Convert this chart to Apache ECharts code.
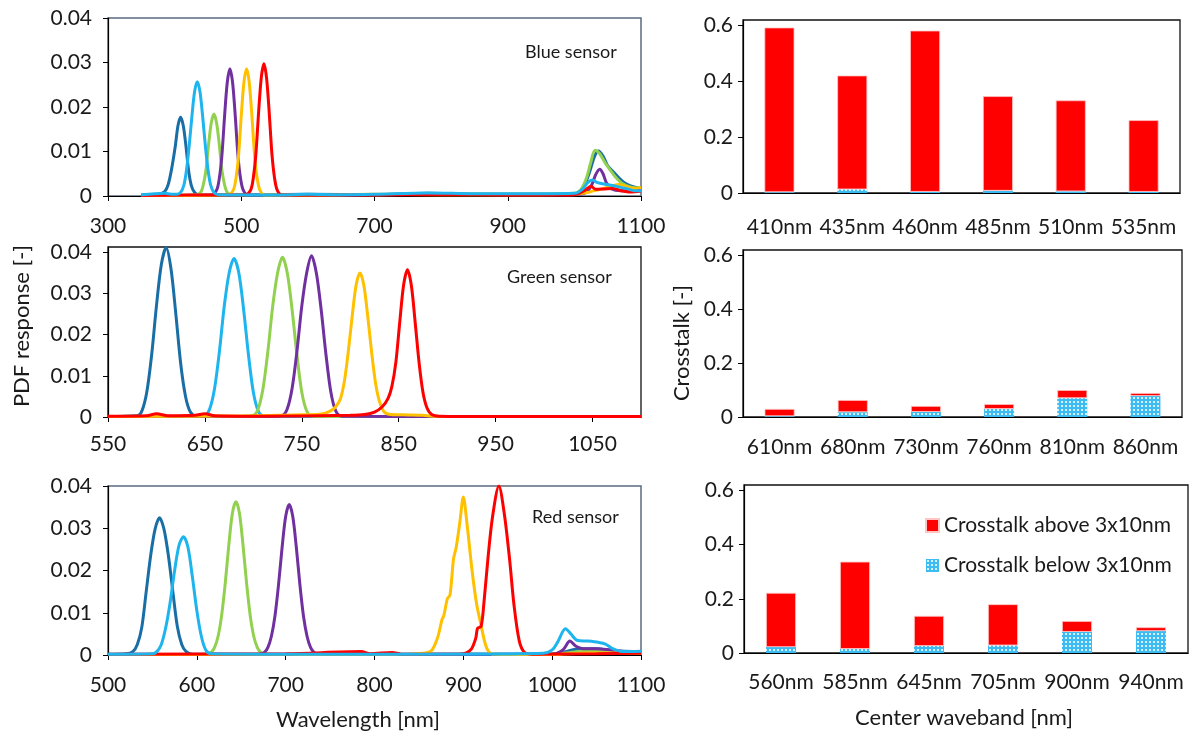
<!DOCTYPE html>
<html>
<head>
<meta charset="utf-8">
<script src="https://cdn.jsdelivr.net/npm/echarts@6/dist/echarts.min.js"></script>
<style>html,body{margin:0;background:#fff}#chart{width:1193px;height:733px}</style>
</head>
<body>
<div id="chart"></div>
<script>
// Blue sensor spectra [nm, PDF]
var bsDarkBlue = [[350,0.0002],[375,0.0004],[385,0.001],[390,0.0024],[395,0.0057],[401,0.0112],[405,0.0158],[409,0.0177],[413,0.0158],[417,0.0112],[421,0.0057],[425,0.0024],[430,0.0008],[437,0.0002],[500,0.0002],[600,0.0004],[700,0.0003],[780,0.0006],[850,0.0004],[950,0.0004],[1000,0.0005],[1012,0.0015],[1022,0.005],[1030,0.0088],[1036,0.0101],[1043,0.009],[1050,0.0068],[1058,0.0055],[1066,0.0042],[1075,0.003],[1088,0.0021],[1100,0.0017]];
var bsLightBlue = [[350,0.0003],[370,0.0005],[385,0.0006],[395,0.0004],[403,0.0004],[409,0.0008],[414,0.0025],[418,0.006],[422,0.0115],[426,0.018],[430,0.0235],[434,0.0257],[438,0.0235],[442,0.018],[446,0.0115],[450,0.006],[454,0.0025],[459,0.0008],[465,0.0003],[550,0.0002],[600,0.0004],[650,0.0003],[700,0.0004],[780,0.0007],[850,0.0005],[950,0.0005],[1000,0.0006],[1012,0.0015],[1020,0.003],[1027,0.0036],[1035,0.003],[1048,0.0026],[1065,0.0021],[1080,0.0016],[1090,0.0012],[1100,0.0012]];
var bsGreen = [[350,0.0001],[430,0.0002],[439,0.0008],[443,0.0025],[447,0.0058],[451,0.0116],[455,0.0164],[459,0.0184],[463,0.0164],[467,0.0116],[471,0.0058],[475,0.0025],[479,0.0008],[486,0.0002],[600,0.0003],[700,0.0003],[800,0.0005],[900,0.0004],[1000,0.0006],[1010,0.0015],[1018,0.004],[1024,0.0072],[1031,0.0103],[1038,0.0095],[1046,0.0075],[1054,0.0058],[1062,0.0042],[1072,0.0028],[1085,0.002],[1100,0.0018]];
var bsPurple = [[350,0.0001],[455,0.0002],[463,0.0013],[467,0.0039],[471,0.0092],[475,0.018],[479,0.0255],[483,0.0286],[487,0.0255],[491,0.018],[495,0.0092],[499,0.0039],[503,0.0013],[510,0.0002],[600,0.0002],[700,0.0003],[800,0.0004],[900,0.0003],[1000,0.0003],[1018,0.0008],[1026,0.0025],[1032,0.0048],[1038,0.006],[1043,0.005],[1048,0.003],[1056,0.0016],[1070,0.0012],[1100,0.0013]];
var bsOrange = [[350,0.0001],[480,0.0002],[488,0.0013],[492,0.0039],[496,0.0092],[500,0.018],[504,0.0255],[508,0.0286],[512,0.0255],[516,0.018],[520,0.0092],[524,0.0039],[528,0.0013],[535,0.0002],[600,0.0002],[700,0.0004],[800,0.0003],[900,0.0003],[1000,0.0004],[1020,0.0008],[1030,0.0012],[1040,0.0015],[1055,0.0022],[1068,0.0026],[1080,0.002],[1090,0.0017],[1100,0.0019]];
var bsRed = [[350,0.0001],[420,0.0002],[505,0.0002],[514,0.0013],[518,0.004],[522,0.0095],[526,0.0187],[530,0.0265],[534,0.0297],[538,0.0265],[542,0.0187],[546,0.0095],[550,0.004],[554,0.0013],[561,0.0002],[650,0.0002],[750,0.0003],[850,0.0003],[950,0.0002],[1000,0.0003],[1015,0.0012],[1025,0.0022],[1032,0.0015],[1045,0.0016],[1058,0.0017],[1070,0.0012],[1085,0.0009],[1100,0.0011]];

// Green sensor spectra
var gsDarkBlue = [[550,0.0001],[580,0.0003],[585,0.0015],[590,0.006],[595,0.015],[600,0.027],[605,0.037],[610,0.0412],[615,0.036],[620,0.025],[625,0.013],[630,0.005],[635,0.0012],[641,0.0002],[700,0.0001],[800,0.0001],[1100,0.0001]];
var gsLightBlue = [[550,0.0001],[640,0.0002],[650,0.0004],[655,0.002],[660,0.007],[665,0.016],[670,0.027],[675,0.035],[680,0.0385],[685,0.035],[690,0.026],[695,0.015],[700,0.006],[705,0.0015],[711,0.0002],[800,0.0001],[1100,0.0001]];
var gsGreen = [[550,0.0001],[690,0.0002],[700,0.0004],[705,0.002],[710,0.007],[715,0.016],[720,0.027],[725,0.035],[730,0.0388],[735,0.035],[740,0.026],[745,0.015],[750,0.006],[755,0.0015],[761,0.0002],[850,0.0001],[1100,0.0001]];
var gsPurple = [[550,0.0001],[720,0.0002],[730,0.0004],[735,0.002],[740,0.007],[745,0.016],[750,0.027],[755,0.035],[760,0.0392],[765,0.035],[770,0.026],[775,0.015],[780,0.006],[785,0.0015],[791,0.0002],[900,0.0001],[1100,0.0001]];
var gsOrange = [[550,0.0001],[700,0.0003],[740,0.0005],[765,0.0006],[775,0.001],[782,0.0018],[786,0.0028],[790,0.0045],[794,0.0088],[798,0.016],[802,0.0245],[806,0.032],[810,0.035],[814,0.032],[818,0.0245],[822,0.0158],[826,0.0084],[830,0.0039],[835,0.0012],[842,0.0006],[860,0.0005],[875,0.0004],[885,0.0002],[1100,0.0001]];
var gsRed = [[550,0.0002],[590,0.0003],[600,0.0008],[612,0.0003],[640,0.0004],[650,0.0008],[660,0.0003],[700,0.0002],[800,0.0004],[815,0.0006],[825,0.0012],[833,0.0025],[839,0.0045],[843,0.0075],[847,0.0132],[851,0.0229],[855,0.032],[859,0.0358],[863,0.032],[867,0.0229],[871,0.0132],[875,0.006],[879,0.0023],[884,0.0006],[892,0.0002],[950,0.0001],[1100,0.0001]];

// Red sensor spectra
var rsDarkBlue = [[500,0.0002],[520,0.0003],[528,0.0008],[533,0.0025],[538,0.0065],[543,0.015],[548,0.0235],[553,0.0298],[558,0.0325],[563,0.0298],[568,0.0235],[573,0.015],[578,0.0068],[583,0.0025],[588,0.0008],[595,0.0002],[700,0.0002],[800,0.0002],[1000,0.0003],[1015,0.0008],[1030,0.0015],[1050,0.0015],[1070,0.001],[1100,0.0008]];
var rsLightBlue = [[500,0.0002],[550,0.0003],[555,0.0008],[560,0.0025],[565,0.0065],[570,0.0125],[575,0.02],[580,0.026],[585,0.028],[590,0.0255],[595,0.0185],[600,0.0105],[605,0.0045],[610,0.0012],[616,0.0003],[700,0.0002],[800,0.0002],[900,0.0002],[990,0.0004],[1000,0.0012],[1006,0.003],[1015,0.0062],[1021,0.005],[1028,0.0035],[1040,0.0033],[1052,0.003],[1060,0.0026],[1068,0.0015],[1080,0.0008],[1100,0.0009]];
var rsGreen = [[500,0.0001],[610,0.0002],[616,0.0006],[620,0.0018],[624,0.0045],[628,0.0095],[632,0.017],[636,0.026],[640,0.0335],[644,0.0363],[648,0.0335],[652,0.026],[656,0.017],[660,0.0095],[664,0.0045],[668,0.0018],[672,0.0006],[678,0.0001],[800,0.0001],[1000,0.0002],[1030,0.0008],[1050,0.001],[1070,0.0007],[1100,0.0005]];
var rsPurple = [[500,0.0001],[670,0.0002],[676,0.0006],[680,0.0018],[684,0.0045],[688,0.0093],[692,0.0167],[696,0.0255],[700,0.0328],[704,0.0356],[708,0.0328],[712,0.0255],[716,0.0167],[720,0.0093],[724,0.0045],[728,0.0018],[732,0.0006],[738,0.0001],[850,0.0001],[1000,0.0002],[1012,0.0012],[1020,0.0033],[1026,0.0022],[1035,0.0015],[1050,0.0015],[1065,0.0012],[1080,0.0008],[1100,0.0006]];
var rsOrange = [[500,0.0001],[840,0.0002],[855,0.0004],[864,0.001],[871,0.0041],[876,0.0084],[878,0.0093],[882,0.0133],[885,0.0142],[889,0.0228],[892,0.0255],[896,0.0313],[900,0.0374],[904,0.0313],[910,0.0197],[915,0.012],[919,0.008],[926,0.0018],[933,0.0002],[1000,0.0001],[1040,0.0005],[1070,0.0005],[1100,0.0004]];
var rsRed = [[500,0.0002],[700,0.0003],[785,0.0008],[795,0.0003],[820,0.0006],[830,0.0002],[895,0.0002],[902,0.0004],[909,0.0014],[914,0.004],[916,0.0063],[920,0.0068],[923,0.0119],[928,0.0235],[933,0.0329],[940,0.04],[946,0.0336],[952,0.0228],[957,0.0119],[963,0.0033],[969,0.0006],[978,0.0002],[1050,0.0003],[1100,0.0004]];

// crosstalk bars
var blueBands = ['410nm','435nm','460nm','485nm','510nm','535nm'];
var blueBelow = [0.003,0.013,0.004,0.008,0.006,0.004];
var blueAbove = [0.590,0.408,0.578,0.339,0.326,0.257];
var greenBands = ['610nm','680nm','730nm','760nm','810nm','860nm'];
var greenBelow = [0.003,0.018,0.019,0.030,0.070,0.078];
var greenAbove = [0.027,0.045,0.022,0.018,0.030,0.011];
var redBands = ['560nm','585nm','645nm','705nm','900nm','940nm'];
var redBelow = [0.022,0.015,0.026,0.028,0.078,0.081];
var redAbove = [0.200,0.322,0.111,0.152,0.040,0.014];

var font = 'Lato, "Noto Sans", sans-serif';
var txt = '#1a1a1a';
var cDarkBlue = '#1a6ea6', cLightBlue = '#1eb4ee', cGreen = '#92d050',
    cPurple = '#7030a0', cOrange = '#ffc000', cRed = '#ff0000';

// dotted light-blue fill
var pc = document.createElement('canvas');
pc.width = 4; pc.height = 4;
var pctx = pc.getContext('2d');
pctx.fillStyle = '#3cbcf0'; pctx.fillRect(0, 0, 4, 4);
pctx.fillStyle = '#d6f1fc'; pctx.fillRect(1, 1, 2, 2);
var dotted = { image: pc, repeat: 'repeat' };

var chart = echarts.init(document.getElementById('chart'));

function plain(v) { return String(v); }
function lineSeries(data, color, idx) {
  return {
    type: 'line', xAxisIndex: idx, yAxisIndex: idx, data: data,
    showSymbol: false, smooth: 0.3, silent: true,
    lineStyle: { width: 3, color: color }, itemStyle: { color: color }
  };
}
function valX(idx, min, max, ticks, margin) {
  return {
    type: 'value', gridIndex: idx, min: min, max: max,
    axisLine: { lineStyle: { color: '#000', width: 1.2 } },
    axisTick: { length: 5, lineStyle: { color: '#000' }, customValues: ticks },
    axisLabel: { fontSize: 21, color: txt, fontFamily: font, margin: margin, customValues: ticks, formatter: plain },
    splitLine: { show: false }
  };
}
function valY(idx, max, ticks, margin) {
  return {
    type: 'value', gridIndex: idx, min: 0, max: max,
    axisLine: { show: true, lineStyle: { color: '#000', width: 1.2 } },
    axisTick: { show: true, length: 5, lineStyle: { color: '#000' }, customValues: ticks },
    axisLabel: { fontSize: 21, color: txt, fontFamily: font, margin: margin, customValues: ticks, formatter: plain },
    splitLine: { show: false }
  };
}
function catX(idx, cats, margin) {
  return {
    type: 'category', gridIndex: idx, data: cats,
    axisLine: { lineStyle: { color: '#000', width: 1.2 } },
    axisTick: { show: false },
    axisLabel: { fontSize: 21, color: txt, fontFamily: font, margin: margin, interval: 0, hideOverlap: false },
    splitLine: { show: false }
  };
}
function barPair(idx, below, above) {
  return [
    { type: 'bar', name: 'Crosstalk below 3x10nm', xAxisIndex: idx, yAxisIndex: idx, stack: 's' + idx,
      data: below, barWidth: 30, itemStyle: { color: dotted }, silent: true },
    { type: 'bar', name: 'Crosstalk above 3x10nm', xAxisIndex: idx, yAxisIndex: idx, stack: 's' + idx,
      data: above, barWidth: 30, itemStyle: { color: cRed, borderColor: '#ffc4c4', borderWidth: 0.8 }, silent: true }
  ];
}
function label(text, x, y, size, rotate) {
  return {
    type: 'text', x: x, y: y, rotation: rotate ? Math.PI / 2 : 0, silent: true,
    style: { text: text, fontSize: size, fontFamily: font, fill: txt, align: 'center', verticalAlign: 'middle' }
  };
}

var labStyle = { fontSize: 18, fontWeight: 'normal', color: txt, fontFamily: font };

var option = {
  animation: false,
  textStyle: { fontFamily: font },
  title: [
    { text: 'Blue sensor', left: 520, top: 38, textStyle: labStyle },
    { text: 'Green sensor', left: 502, top: 263, textStyle: labStyle },
    { text: 'Red sensor', left: 527, top: 503, textStyle: labStyle }
  ],
  graphic: [
    label('PDF response [-]', 22, 326, 22, true),
    label('Wavelength [nm]', 358, 720, 22, false),
    label('Crosstalk [-]', 682, 343, 22, true),
    label('Center waveband [nm]', 964, 718, 22, false)
  ],
  legend: {
    orient: 'vertical', left: 920, top: 510, itemWidth: 13, itemHeight: 13, itemGap: 19,
    icon: 'rect', textStyle: { fontSize: 21, color: txt, fontFamily: font },
    data: ['Crosstalk above 3x10nm', 'Crosstalk below 3x10nm'], selectedMode: false
  },
  grid: [
    { left: 108, top: 18, width: 533, height: 178, show: true, borderColor: '#5b6b7c', borderWidth: 1.5 },
    { left: 108, top: 247, width: 533, height: 170, show: true, borderColor: '#111', borderWidth: 1.3 },
    { left: 108, top: 486, width: 533, height: 169, show: true, borderColor: '#5b6b7c', borderWidth: 1.5 },
    { left: 743, top: 20, width: 437, height: 173, show: true, borderColor: '#111', borderWidth: 1.3 },
    { left: 743, top: 250, width: 439, height: 167, show: true, borderColor: '#111', borderWidth: 1.3 },
    { left: 744, top: 485, width: 444, height: 168, show: true, borderColor: '#111', borderWidth: 1.3 }
  ],
  xAxis: [
    valX(0, 300, 1100, [300, 500, 700, 900, 1100], 20),
    valX(1, 550, 1100, [550, 650, 750, 850, 950, 1050], 17),
    valX(2, 500, 1100, [500, 600, 700, 800, 900, 1000, 1100], 20),
    catX(3, blueBands, 24),
    catX(4, greenBands, 20),
    catX(5, redBands, 19)
  ],
  yAxis: [
    valY(0, 0.04, [0, 0.01, 0.02, 0.03, 0.04], 16),
    valY(1, 0.0413, [0, 0.01, 0.02, 0.03, 0.04], 16),
    valY(2, 0.04, [0, 0.01, 0.02, 0.03, 0.04], 16),
    valY(3, 0.62, [0, 0.2, 0.4, 0.6], 10),
    valY(4, 0.62, [0, 0.2, 0.4, 0.6], 10),
    valY(5, 0.62, [0, 0.2, 0.4, 0.6], 10)
  ],
  series: [
    lineSeries(bsDarkBlue, cDarkBlue, 0), lineSeries(bsGreen, cGreen, 0),
    lineSeries(bsPurple, cPurple, 0), lineSeries(bsOrange, cOrange, 0),
    lineSeries(bsRed, cRed, 0), lineSeries(bsLightBlue, cLightBlue, 0),
    lineSeries(gsDarkBlue, cDarkBlue, 1), lineSeries(gsLightBlue, cLightBlue, 1),
    lineSeries(gsGreen, cGreen, 1), lineSeries(gsPurple, cPurple, 1),
    lineSeries(gsOrange, cOrange, 1), lineSeries(gsRed, cRed, 1),
    lineSeries(rsDarkBlue, cDarkBlue, 2), lineSeries(rsGreen, cGreen, 2),
    lineSeries(rsPurple, cPurple, 2), lineSeries(rsOrange, cOrange, 2),
    lineSeries(rsRed, cRed, 2), lineSeries(rsLightBlue, cLightBlue, 2)
  ].concat(barPair(3, blueBelow, blueAbove), barPair(4, greenBelow, greenAbove), barPair(5, redBelow, redAbove))
};
chart.setOption(option);
</script>
</body>
</html>
